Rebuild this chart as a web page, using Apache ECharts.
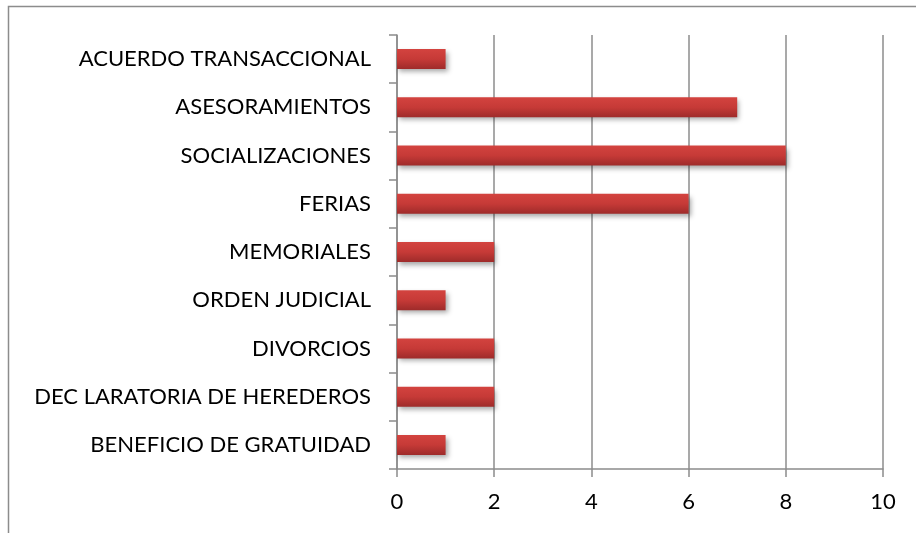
<!DOCTYPE html>
<html>
<head>
<meta charset="utf-8">
<script src="https://cdn.jsdelivr.net/npm/echarts@6/dist/echarts.min.js"></script>
<style>
  html, body { margin: 0; padding: 0; background: #fff; }
  #chart { width: 916px; height: 533px; }
</style>
</head>
<body>
<div id="chart"></div>
<script>
// categorias (de arriba hacia abajo)
const categories = [
  'ACUERDO TRANSACCIONAL',
  'ASESORAMIENTOS',
  'SOCIALIZACIONES',
  'FERIAS',
  'MEMORIALES',
  'ORDEN JUDICIAL',
  'DIVORCIOS',
  'DEC LARATORIA DE HEREDEROS',
  'BENEFICIO DE GRATUIDAD'
];
const values = [1, 7, 8, 6, 2, 1, 2, 2, 1];

const chart = echarts.init(document.getElementById('chart'));
chart.setOption({
  animation: false,
  textStyle: { fontFamily: 'Lato, "Open Sans", sans-serif' },
  graphic: [{
    type: 'rect',
    shape: { x: 8.5, y: 6.5, width: 1000, height: 1000 },
    style: { fill: 'none', stroke: '#8c8c8c', lineWidth: 1.5 },
    silent: true
  }],
  grid: { left: 397, right: 33, top: 35, bottom: 64 },
  xAxis: {
    type: 'value',
    min: 0,
    max: 10,
    interval: 2,
    axisLine: { show: true, lineStyle: { color: '#8c8c8c', width: 1.5 } },
    axisTick: { show: true, length: 8, lineStyle: { color: '#8c8c8c', width: 1.5 } },
    splitLine: { show: true, lineStyle: { color: '#8c8c8c', width: 1.5 } },
    axisLabel: { color: '#000', fontSize: 22, margin: 22 }
  },
  yAxis: {
    type: 'category',
    inverse: true,
    data: categories,
    axisLine: { show: true, lineStyle: { color: '#8c8c8c', width: 1.5 } },
    axisTick: { show: true, length: 8, lineStyle: { color: '#8c8c8c', width: 1.5 } },
    axisLabel: { color: '#000', fontSize: 22, margin: 26 }
  },
  series: [{
    type: 'bar',
    data: values,
    barWidth: 20,
    itemStyle: {
      color: new echarts.graphic.LinearGradient(0, 0, 0, 1, [
        { offset: 0, color: '#d3433f' },
        { offset: 0.5, color: '#c63a37' },
        { offset: 1, color: '#9e2b2a' }
      ]),
      shadowColor: 'rgba(0,0,0,0.35)',
      shadowBlur: 5,
      shadowOffsetX: 2,
      shadowOffsetY: 3
    }
  }]
});
</script>
</body>
</html>
